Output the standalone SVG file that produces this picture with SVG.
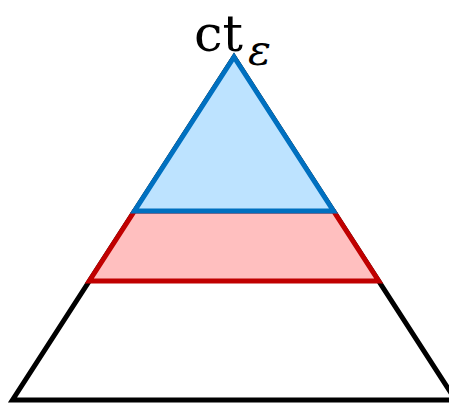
<svg xmlns="http://www.w3.org/2000/svg" width="449" height="404" viewBox="0 0 449 404">
<style>
.outer{fill:none;stroke:#000;stroke-width:5;stroke-linejoin:miter}
.band{fill:#FFBFBF;stroke:#C00000;stroke-width:5;stroke-linejoin:miter}
.top{fill:#BDE3FF;stroke:#0070C0;stroke-width:5;stroke-linejoin:miter;stroke-miterlimit:10}
.lbl{font-family:"DejaVu Serif","Liberation Serif",serif;fill:#000}
</style>
<rect width="449" height="404" fill="#fff"/>
<g id="outer-triangle"><polygon class="outer" points="234,57 12.5,400 455.5,400"/></g>
<g id="red-band"><polygon class="band" points="134.5,211 333.5,211 378.7,281 89.3,281"/></g>
<g id="blue-top"><polygon class="top" points="234,57 333.5,211 134.5,211"/></g>
<g id="label"><text class="lbl" x="194" y="51" font-size="51">ct<tspan font-style="italic" font-size="43" dx="5" dy="14">ε</tspan></text></g>
</svg>
